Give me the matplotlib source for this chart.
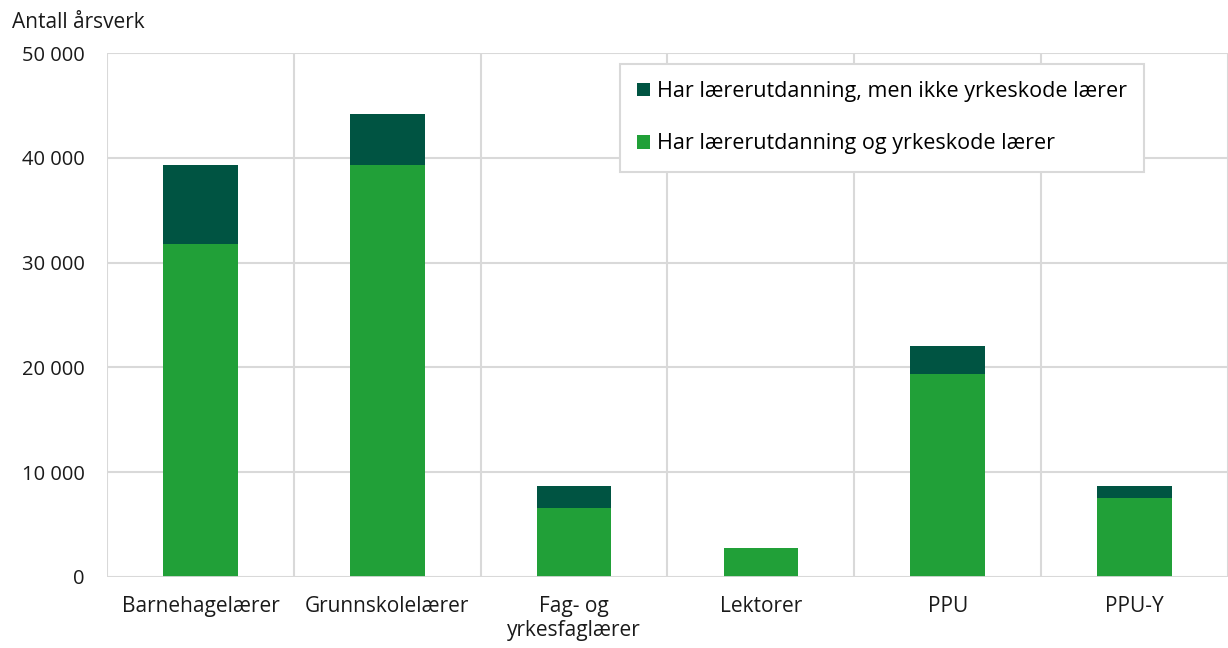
import numpy as np
import matplotlib.pyplot as plt
from matplotlib.ticker import FuncFormatter

plt.rcParams['font.family'] = ['Open Sans', 'DejaVu Sans']

# Data (antall årsverk)
categories = ["Barnehagelærer", "Grunnskolelærer", "Fag- og\nyrkesfaglærer",
              "Lektorer", "PPU", "PPU-Y"]
med_yrkeskode = [31800, 39300, 6600, 2750, 19400, 7550]
uten_yrkeskode = [7550, 4900, 2100, 50, 2650, 1150]
yticks = [0, 10000, 20000, 30000, 40000, 50000]

label_dark = "Har lærerutdanning, men ikke yrkeskode lærer"
label_green = "Har lærerutdanning og yrkeskode lærer"
c_dark = "#005442"
c_green = "#21a038"
c_grid = "#d9d9d9"

fig = plt.figure(figsize=(12.28, 6.48), dpi=100)
ax = fig.add_axes([0.0871, 0.1096, 0.9129, 0.8086])

x = np.arange(len(categories))
b1 = ax.bar(x, med_yrkeskode, width=0.4, color=c_green, label=label_green, zorder=3)
b2 = ax.bar(x, uten_yrkeskode, width=0.4, bottom=med_yrkeskode, color=c_dark,
            label=label_dark, zorder=3)

ax.set_xlim(-0.5, len(categories) - 0.5)
ax.set_ylim(0, 50000)
ax.set_yticks(yticks)
ax.yaxis.set_major_formatter(FuncFormatter(lambda v, p: f"{int(v):,}".replace(",", " ")))
ax.set_xticks(x)
ax.set_xticklabels(categories, fontsize=15, color="#1a1a1a", linespacing=1.15)
ax.tick_params(axis="y", labelsize=14.5, colors="#1a1a1a", length=0, pad=16)
ax.tick_params(axis="x", length=0, pad=14)

# grid: horizontal at ticks, vertical between categories
ax.grid(axis="y", color=c_grid, linewidth=1.5, zorder=0)
for k in range(len(categories) + 1):
    ax.axvline(k - 0.5, color=c_grid, linewidth=1.5, zorder=0)
for s in ax.spines.values():
    s.set_visible(False)
ax.axhline(0, color=c_grid, linewidth=2, zorder=4)

fig.text(0.0098, 0.966, "Antall årsverk", fontsize=15, color="#1a1a1a", va="center")

leg = ax.legend(handles=[b2, b1], loc="upper left", bbox_to_anchor=(0.4576, 0.979),
                fontsize=15.5, frameon=True, fancybox=False, edgecolor=c_grid,
                framealpha=1, handlelength=0.6, handleheight=0.6, handletextpad=0.3,
                labelspacing=1.45, borderpad=0.8, borderaxespad=0)
leg.get_frame().set_linewidth(1.5)

fig.savefig("out.png", dpi=100, facecolor="white")
plt.close(fig)
